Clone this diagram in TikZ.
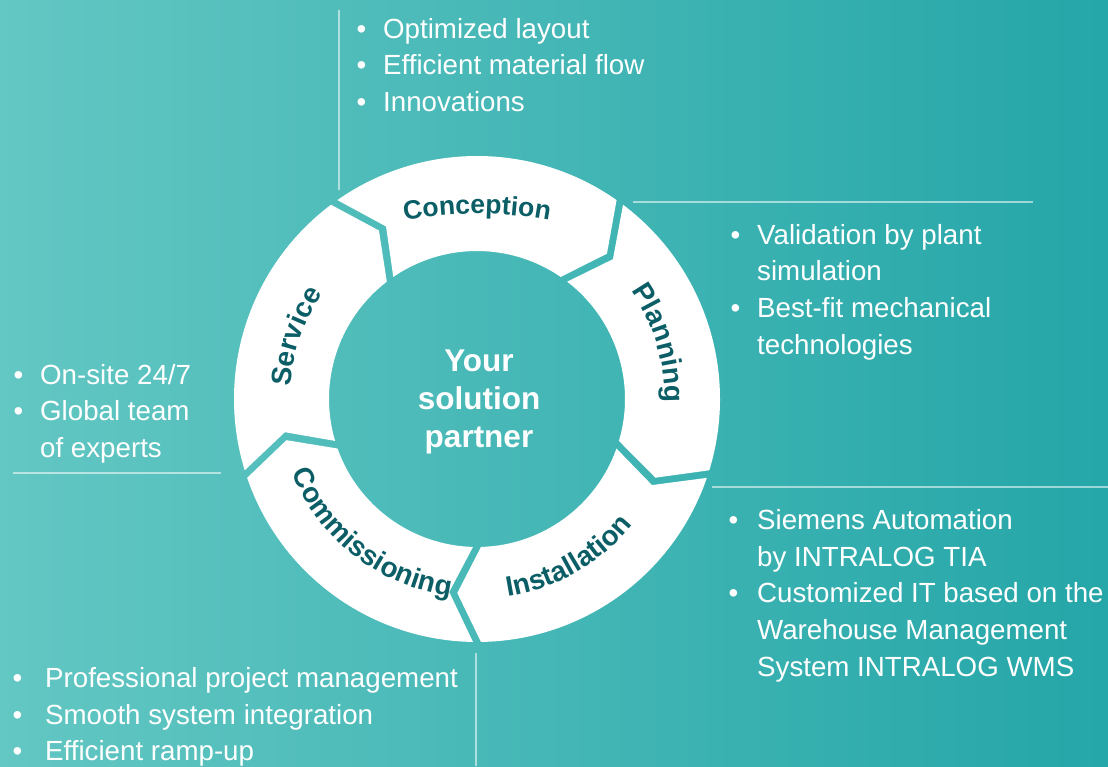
\documentclass[tikz,border=0pt]{standalone}
\usepackage{fontspec}
\setmainfont{Liberation Sans}
\usetikzlibrary{decorations.text,calc}
\definecolor{bgleft}{HTML}{63C7C3}
\definecolor{bgright}{HTML}{25A6A8}
\definecolor{ringtext}{HTML}{0B5E66}
\newcommand{\itm}[1][17pt]{\rule{0pt}{21pt}\llap{\textbullet\hspace{#1}}}
\newcommand{\ringfont}{\fontsize{28}{28}\selectfont\bfseries\color{ringtext}}
\tikzstyle{itemlist} = [anchor=north west, align=left, inner sep=0pt, text=white,
    font=\fontsize{27.7}{36.8}\selectfont]
\tikzstyle{splitline} = [draw=white, draw opacity=0.55, line width=1.6pt]
\tikzstyle{ringpart} = [fill=white]
\tikzstyle{ringlabel} = [decorate, decoration={text along path, text align=center}]

\begin{document}
\begin{tikzpicture}[x=1pt, y=1pt]
  \useasboundingbox (0,0) rectangle (1108,766);
  \shade[left color=bgleft, right color=bgright] (0,0) rectangle (1108,766);

  % Ring of five parts, each notched like an arrow
  \begin{scope}[shift={(477,367)}]
    \foreach \a in {-18,54,126,198,270}{
      \pgfmathsetmacro\b{\a+72}
      \fill[ringpart] (\a+0.94:243) arc[start angle=\a+0.94, end angle=\b-0.94, radius=243]
        -- (\b-8.2:195) -- (\b-1.55:148)
        arc[start angle=\b-1.55, end angle=\a+1.55, radius=148]
        -- (\a-5.8:195) -- cycle;
    }
    % labels on the ring
    \path[ringlabel, decoration={text={|\fontsize{26.5}{26.5}\selectfont\bfseries\color{ringtext}|Conception}}]
      ($(0,-215)+(108:400)$) arc[start angle=108, end angle=72, radius=400];
    \path[ringlabel, decoration={text={|\ringfont|Planning}}]
      (62:188) arc[start angle=62, end angle=-28, radius=188];
    \path[ringlabel, decoration={text={|\ringfont|Service}}]
      (206:187) arc[start angle=206, end angle=116, radius=187];
    \path[ringlabel, decoration={text={|\ringfont|Commissioning}}]
      (182:199) arc[start angle=182, end angle=282, radius=199];
    \path[ringlabel, decoration={text={|\ringfont|Installation}}]
      (255:200) arc[start angle=255, end angle=345, radius=200];
  \end{scope}

  \node[text=white, align=center, font=\fontsize{31.5}{38}\selectfont\bfseries]
    (core) at (479,364) {Your\\solution\\partner};

  % Place lists
  \node[itemlist] (conception) at (383,749)
    {\itm Optimized layout\\\itm Efficient material flow\\\itm Innovations};
  \node[itemlist] (planning) at (757,543)
    {\itm Validation by plant\\simulation\\\itm Best-fit mechanical\\technologies};
  \node[itemlist] (service) at (40,403)
    {\itm On-site 24/7\\\itm Global team\\of experts};
  \node[itemlist] (installation) at (757,258)
    {\itm[19pt]Siemens Automation\\by INTRALOG TIA\\\itm[19pt]Customized IT based on the\\Warehouse Management\\System INTRALOG WMS};
  \node[itemlist] (commissioning) at (45,100)
    {\itm[23pt]Professional project management\\\itm[23pt]Smooth system integration\\\itm[23pt]Efficient ramp-up};

  % thin lines
  \draw[splitline] (339,756) -- (339,576);
  \draw[splitline] (633,564) -- (1033,564);
  \draw[splitline] (13,293) -- (221,293);
  \draw[splitline] (712,279) -- (1108,279);
  \draw[splitline] (476,113) -- (476,0);
\end{tikzpicture}
\end{document}
